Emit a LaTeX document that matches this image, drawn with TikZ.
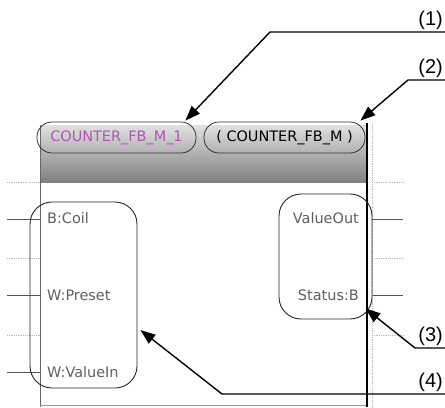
\documentclass[tikz,border=0pt]{standalone}
\usepackage{fontspec}
\setmainfont{Liberation Sans}
\newfontfamily\uifont{DejaVu Sans}
\usetikzlibrary{arrows.meta, positioning, calc}
\definecolor{pinline}{RGB}{85,85,85}
\definecolor{gridgray}{RGB}{185,185,185}
\definecolor{labelgray}{RGB}{95,95,95}
\definecolor{instpurple}{RGB}{176,88,176}
\tikzset{
    pill/.style={rectangle, rounded corners=15bp, draw=black!80, line width=0.8bp, minimum height=31bp, inner sep=0pt, font=\uifont\fontsize{14.5}{15}\selectfont},
    varbox/.style={rectangle, rounded corners=22bp, draw=black!85, line width=0.9bp, inner sep=0pt},
    varlabel/.style={font=\uifont\fontsize{14.5}{15}\selectfont, text=labelgray, inner sep=0pt},
    callout/.style={font=\fontsize{20}{22}\selectfont, inner sep=2bp, anchor=south east},
    leader/.style={-{Triangle[length=15bp,width=11bp]}, line width=1.4bp},
    gridline/.style={gridgray, densely dotted, line width=0.8bp},
    pinwire/.style={pinline, line width=1bp},
}
\begin{document}
\begin{tikzpicture}[x=1bp, y=-1bp]
    \useasboundingbox (0,0) rectangle (445,407);
    \foreach \y in {182,258,335} {
        \draw[gridline] (7,\y) -- (40,\y);
        \draw[gridline] (372,\y) -- (403,\y);
    }
    \foreach \y in {219,295,372} \draw[pinwire] (7,\y) -- (40,\y);
    \foreach \y in {219,295} \draw[pinwire] (372,\y) -- (403,\y);
    \shade[top color=black!12, bottom color=black!50] (40,125) rectangle (367,182);
    \draw[black!60, line width=0.8bp] (40,125) -- (40,407);
    \draw[black!40, line width=0.8bp] (40,405) -- (367,405);
    \draw[gridline] (372,123) -- (372,407);
    \draw[black, line width=2bp] (367,123) -- (367,407);
    \node[pill, minimum width=159bp, text=instpurple] (inst) at (116.5,137.5) {COUNTER\_FB\_M\_1};
    \node[pill, minimum width=161bp] (fbname) at (284.5,137.5) {( COUNTER\_FB\_M )};
    \node[varbox, minimum width=107bp, minimum height=186bp] (inputs) at (83.5,295) {};
    \node[varbox, minimum width=93bp, minimum height=125bp] (outputs) at (325.5,256.5) {};
    \node[varlabel, anchor=west] (coil) at (47,218) {B:Coil};
    \node[varlabel, anchor=west] (preset) at (47,295) {W:Preset};
    \node[varlabel, anchor=west] (valuein) at (47,372) {W:ValueIn};
    \node[varlabel, anchor=east] (valueout) at (359,218) {ValueOut};
    \node[varlabel, anchor=east] (status) at (359,295) {Status:B};
    \node[callout] (c1) at (445,32) {(1)};
    \node[callout] (c2) at (445,80) {(2)};
    \node[callout] (c3) at (445,348) {(3)};
    \node[callout] (c4) at (445,394) {(4)};
    \draw[leader] (c1.south east) -- ++(-175,0) -- ($(inst.north east)+(-11,-1)$);
    \draw[leader] (c2.south east) -- ++(-37,0) -- ($(fbname.north east)+(-5,-1)$);
    \draw[leader] (c3.south east) -- ++(-30,0) -- ($(outputs.south east)+(-7,-11)$);
    \draw[leader] (c4.south east) -- ++(-223,0) -- ($(inputs.east)+(3,35)$);
\end{tikzpicture}
\end{document}
